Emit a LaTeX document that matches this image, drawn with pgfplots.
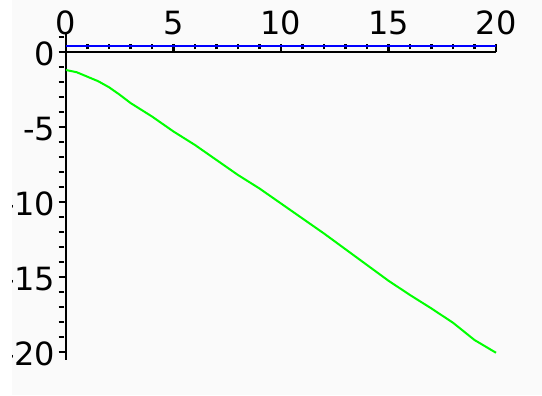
\documentclass[border=0pt]{standalone}
\usepackage{pgfplots}
\pgfplotsset{compat=1.18}
\usepackage{fontspec}
\setmainfont{DejaVu Sans}
\begin{document}
\begin{tikzpicture}[x=1bp,y=1bp]
\useasboundingbox (0,0) rectangle (542,395);
\fill[white] (0,0) rectangle (542,395);
\clip (12,0) rectangle (542,395);
\fill[black!2] (12,0) rectangle (542,395);
\begin{axis}[
  at={(66bp,35.5bp)}, anchor=south west,
  scale only axis, width=430bp, height=327bp,
  xmin=0, xmax=20, ymin=-20.5, ymax=1.3,
  axis x line=middle, axis y line=left,
  axis line style={line width=2bp, black, -},
  every inner x axis line/.append style={-},
  every outer y axis line/.append style={-},
  clip=false,
  hide obscured x ticks=false, hide obscured y ticks=false,
  xtick={0,5,10,15,20}, xticklabels={0,5,10,15,20},
  ytick={-20,-15,-10,-5,0}, yticklabels={-20,-15,-10,-5,0},
  minor xtick={0,1,...,20}, minor ytick={-20,-19,...,1},
  tick align=center, major tick length=5bp, minor tick length=5bp,
  xtick style={black, line width=2.4bp, yshift=2.5bp},
  ytick style={black, line width=2.4bp, xshift=-2.5bp},
  minor tick style={black, line width=2.4bp},
  every minor x tick/.append style={yshift=2.5bp},
  every minor y tick/.append style={xshift=-2.5bp},
  xticklabel pos=upper,
  xticklabel style={anchor=south, inner sep=0pt, yshift=19bp, font=\fontsize{32bp}{32bp}\selectfont},
  yticklabel style={anchor=east, inner sep=0pt, xshift=-8bp, yshift=-2bp, font=\fontsize{32bp}{32bp}\selectfont},
  /pgf/number format/assume math mode=true,
]
\addplot[color={rgb,255:red,0;green,0;blue,255}, line width=2.2bp] coordinates {(0,0.4) (20,0.4)};
\addplot[color={rgb,255:red,0;green,255;blue,0}, line width=2bp] coordinates {
(0,-1.2) (0.5,-1.35) (1,-1.65) (1.5,-1.95) (2,-2.35) (2.5,-2.85) (3,-3.4)
(4,-4.3) (5,-5.3) (6,-6.2) (7,-7.2) (8,-8.2) (9,-9.1) (10,-10.1)
(11,-11.1) (12,-12.1) (13,-13.15) (14,-14.2) (15,-15.25) (16,-16.2)
(17,-17.1) (18,-18.05) (19,-19.2) (20,-20.05)};
\end{axis}
\end{tikzpicture}
\end{document}
